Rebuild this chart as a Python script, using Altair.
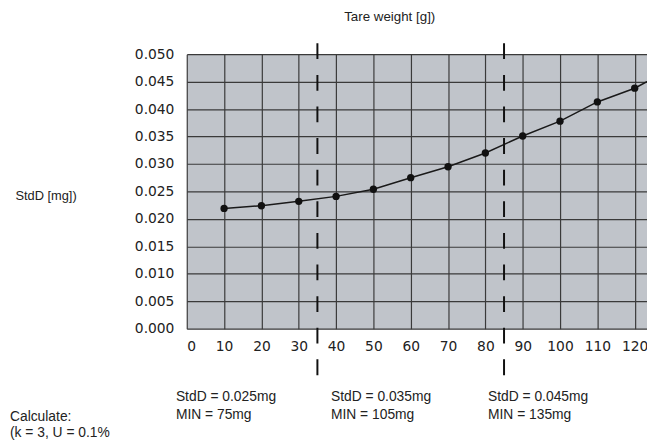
import altair as alt
import pandas as pd

# Tare weight [g] and measured StdD [mg]
tare = [10, 20, 30, 40, 50, 60, 70, 80, 90, 100, 110, 120]
stdd = [0.0219, 0.0224, 0.0232, 0.0241, 0.0254, 0.0275, 0.0295, 0.0320, 0.0351, 0.0378, 0.0413, 0.0438]
# the curve continues beyond the cropped right edge
tare_ext = [130]
stdd_ext = [0.0474]

dash_at = [35, 85]

x_ticks = [0, 10, 20, 30, 40, 50, 60, 70, 80, 90, 100, 110, 120]
y_ticks = [0.0, 0.005, 0.010, 0.015, 0.020, 0.025, 0.030, 0.035, 0.040, 0.045, 0.050]

col_stdd = ["StdD =  0.025mg", "StdD =  0.035mg", "StdD =  0.045mg"]
col_min = ["MIN =  75mg", "MIN =  105mg", "MIN =  135mg"]
calc_lines = ["Calculate:", "(k = 3, U =  0.1%"]

W, H = 466, 278
FONT = "Liberation Sans"
TICKFONT = "DejaVu Sans"

pts = pd.DataFrame({"tare": tare, "stdd": stdd})
line_df = pd.DataFrame({"tare": tare + tare_ext, "stdd": stdd + stdd_ext})
dash_df = pd.DataFrame({"x": dash_at})

xs = alt.Scale(domain=[0, 123.3], nice=False, zero=False)
ys = alt.Scale(domain=[0, 0.05], nice=False)

x_axis = alt.Axis(values=x_ticks, grid=True, domain=False, ticks=False, labelOverlap=False,
                  labelFontSize=14, labelPadding=11, labelColor="#222", labelFont=TICKFONT,
                  title="Tare weight [g])", titleFont=FONT, titleFontSize=13.5,
                  titleFontWeight="normal", titleColor="#222",
                  titleX=205, titleY=-316, titleAlign="center", titleBaseline="middle")
y_axis = alt.Axis(values=y_ticks, format=".3f", grid=True, domain=False, ticks=False,
                  labelOverlap=False,
                  labelFontSize=14, labelPadding=13, labelColor="#222", labelFont=TICKFONT,
                  title="StdD [mg])", titleFont=FONT, titleFontSize=13,
                  titleFontWeight="normal", titleColor="#222", titleAngle=0,
                  titleX=-174, titleY=143, titleAlign="left", titleBaseline="middle")

X = alt.X("tare:Q", scale=xs, axis=x_axis)
Y = alt.Y("stdd:Q", scale=ys, axis=y_axis)

base_line = alt.Chart(line_df).mark_line(color="#1a1a1a", strokeWidth=1.5, clip=True).encode(
    x=X, y=Y,
)

points = alt.Chart(pts).mark_circle(color="#111", size=55, opacity=1).encode(
    x=X, y=Y,
)

dashes = alt.Chart(dash_df).mark_rule(color="#111", strokeWidth=2, strokeDash=[16, 16]).encode(
    x=alt.X("x:Q", scale=xs, axis=x_axis),
    y=alt.value(-11),
    y2=alt.value(328),
)

layers = [base_line, points, dashes]

TXT = dict(align="left", baseline="middle", font=FONT, fontSize=14, color="#222")
col_x = [-11, 146, 305]
for i in range(3):
    layers.append(alt.Chart(pd.DataFrame({"t": [col_stdd[i]]})).mark_text(**TXT).encode(
        text="t:N", x=alt.value(col_x[i]), y=alt.value(347)))
    layers.append(alt.Chart(pd.DataFrame({"t": [col_min[i]]})).mark_text(**TXT).encode(
        text="t:N", x=alt.value(col_x[i]), y=alt.value(365)))

calc_y = [367, 384]
for i, t in enumerate(calc_lines):
    layers.append(alt.Chart(pd.DataFrame({"t": [t]})).mark_text(**TXT).encode(
        text="t:N", x=alt.value(-179), y=alt.value(calc_y[i])))

chart = alt.layer(*layers).properties(
    width=W, height=H,
    autosize=alt.AutoSizeParams(type="none"),
    padding={"left": 181, "top": 44, "right": 0, "bottom": 115},
    background="white",
).configure_view(
    fill="#c0c4ca", stroke="transparent"
).configure_axis(
    gridColor="#3a3a3a", gridWidth=1.2, gridOpacity=1
)

chart.save("out.html", embed_options={"renderer": "svg", "actions": False})
